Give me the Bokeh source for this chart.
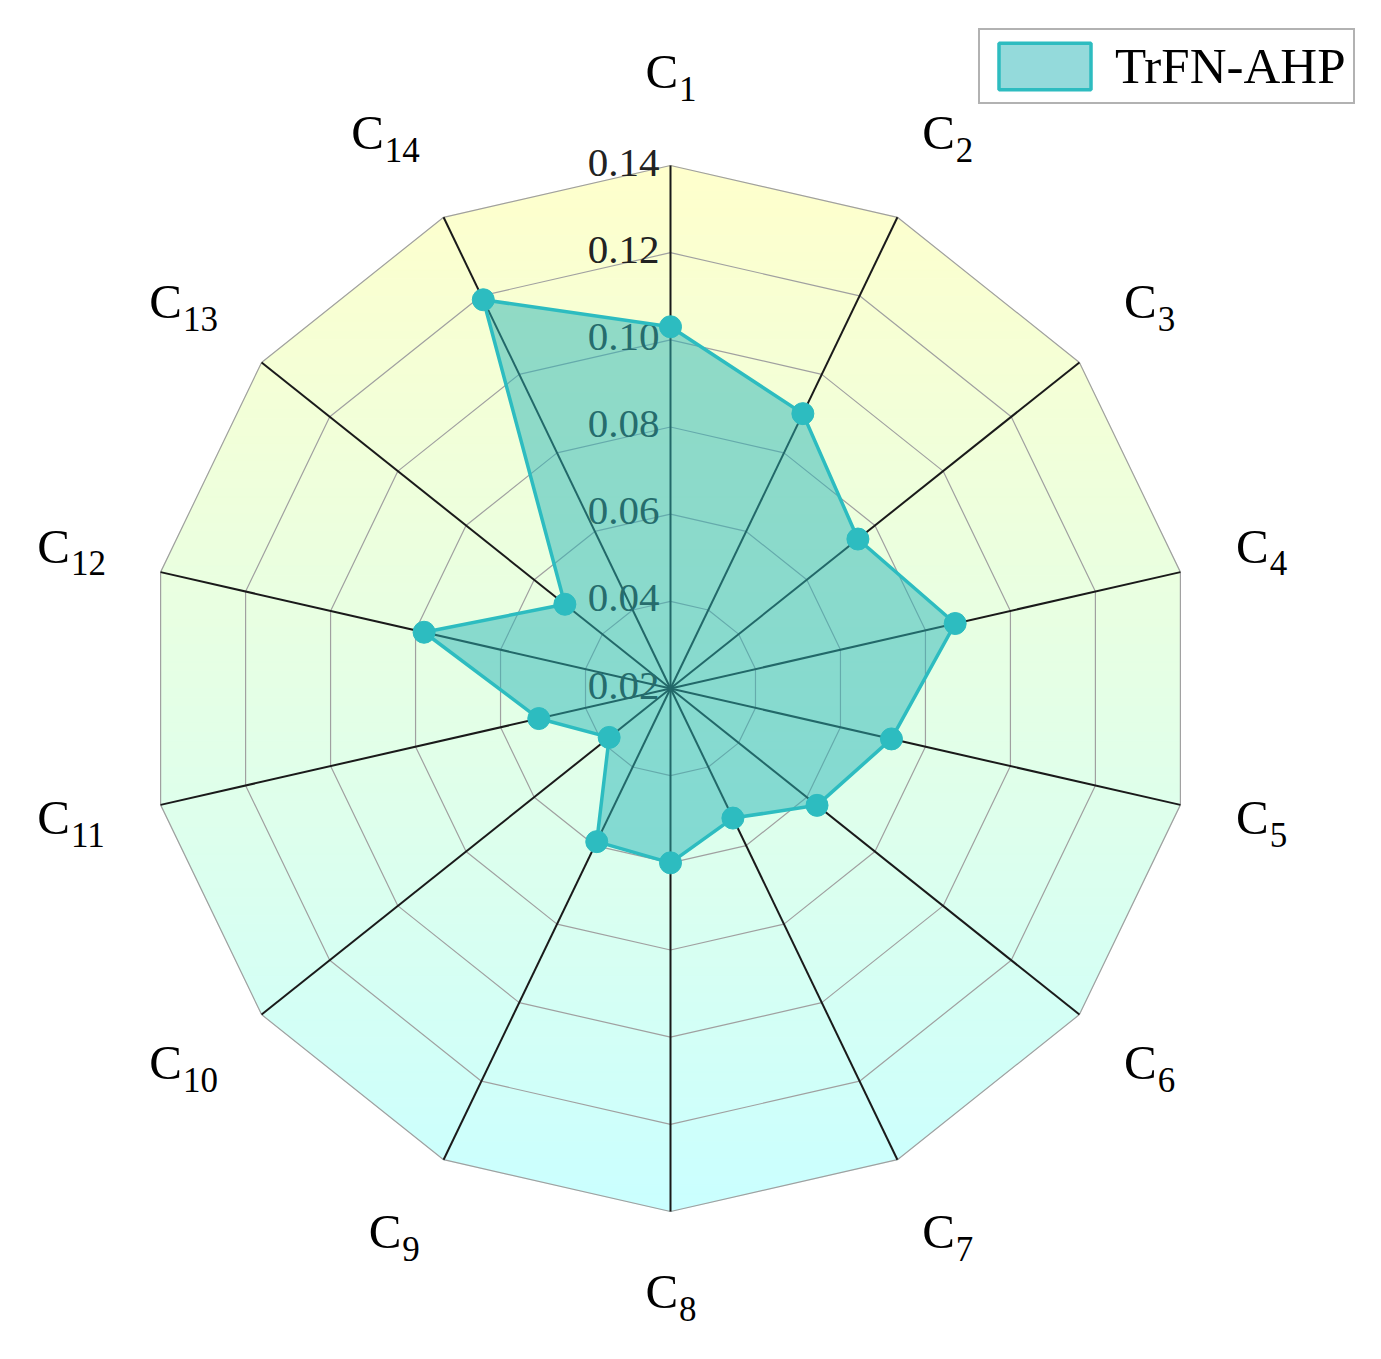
import numpy as np
from bokeh.plotting import figure
from bokeh.models import Range1d, Legend, LegendItem
from bokeh.core.properties import value
from bokeh.embed import file_html
from bokeh.resources import INLINE

# ---------------- data ----------------
criteria_sub = ["1", "2", "3", "4", "5", "6", "7", "8", "9", "10", "11", "12", "13", "14"]
weights = [0.103, 0.090, 0.075, 0.087, 0.072, 0.063, 0.053, 0.060, 0.059, 0.038, 0.051, 0.078, 0.051, 0.119]
ticks = [0.02, 0.04, 0.06, 0.08, 0.10, 0.12, 0.14]
tick_labels = ["0.02", "0.04", "0.06", "0.08", "0.10", "0.12", "0.14"]
series_name = "TrFN-AHP"

# ---------------- layout ----------------
W, H = 1365, 1343
CX, CY = 670, 688          # centre in plot pixels (from top-left)
R = 523                    # outer radius in px
VMIN, VMAX = ticks[0], ticks[-1]
LABEL_RX = 580             # inner edge of side labels
LABEL_RY = 610             # vertical centre of labels
FONT = "Liberation Serif"
TEAL = "#2DBCC0"
FILL = "#2AB6B8"
C_SIZE, S_SIZE = 49, 35
C_ADV, D_ADV = 0.667 * C_SIZE, 0.5 * S_SIZE


def rad(v):
    return (np.asarray(v, dtype=float) - VMIN) / (VMAX - VMIN) * R


n = len(criteria_sub)
theta = np.arange(n) * 2 * np.pi / n
sn, cs = np.sin(theta), np.cos(theta)

p = figure(width=W, height=H, x_range=Range1d(-CX, W - CX), y_range=Range1d(-(H - CY), CY),
           output_backend="svg", toolbar_location=None, x_axis_type=None, y_axis_type=None,
           min_border=0, min_border_left=0, min_border_right=0, min_border_top=0, min_border_bottom=0)
p.grid.visible = False
p.outline_line_color = None
p.background_fill_color = "white"
p.border_fill_color = "white"

# ---------------- gradient background (clipped horizontal strips) ----------------
outer = list(zip(R * sn, R * cs))


def clip_y(poly, yc, keep_above):
    out = []
    m = len(poly)
    for k in range(m):
        a = poly[k]
        b = poly[(k + 1) % m]
        ina = a[1] >= yc if keep_above else a[1] <= yc
        inb = b[1] >= yc if keep_above else b[1] <= yc
        if ina:
            out.append(a)
        if ina != inb:
            t = (yc - a[1]) / (b[1] - a[1])
            out.append((a[0] + t * (b[0] - a[0]), yc))
    return out


top_col = np.array([255, 255, 204])
bot_col = np.array([202, 255, 255])
nstrips = 120
edges = np.linspace(R, -R, nstrips + 1)
xs_s, ys_s, cols = [], [], []
for k in range(nstrips):
    y1, y0 = edges[k], edges[k + 1]
    poly = clip_y(outer, y0, True)
    poly = clip_y(poly, y1, False)
    if len(poly) < 3:
        continue
    t = (R - 0.5 * (y0 + y1)) / (2 * R)
    c = (1 - t) * top_col + t * bot_col
    col = "#%02x%02x%02x" % tuple(int(round(v)) for v in c)
    xs_s.append([q[0] for q in poly])
    ys_s.append([q[1] for q in poly])
    cols.append(col)
p.patches(xs_s, ys_s, fill_color=cols, line_color=cols, line_width=1)

# ---------------- rings ----------------
ring_xs, ring_ys = [], []
for tv in ticks[1:]:
    r = float(rad(tv))
    ring_xs.append(list(r * sn) + [r * sn[0]])
    ring_ys.append(list(r * cs) + [r * cs[0]])
p.multi_line(ring_xs, ring_ys, line_color="#a0a0a0", line_width=1.2)

# ---------------- spokes ----------------
p.segment(x0=np.zeros(n), y0=np.zeros(n), x1=R * sn, y1=R * cs, line_color="#1a1a1a", line_width=2)

# ---------------- tick labels ----------------
p.text(x=[-11] * len(ticks), y=list(rad(ticks) + 3), text=tick_labels,
       text_font=value(FONT), text_font_size="41px", text_color="#222222",
       text_align="right", text_baseline="middle")

# ---------------- data ----------------
rv = rad(weights)
dx, dy = rv * sn, rv * cs
patch_r = p.patch(x=list(dx), y=list(dy), fill_color=FILL, fill_alpha=0.5,
                  line_color=TEAL, line_width=3.5)
p.scatter(x=list(dx), y=list(dy), size=22, marker="circle", fill_color=TEAL, line_color=TEAL)

# ---------------- category labels C_i ----------------
c_x, c_y, s_x, s_y = [], [], [], []
for i, lab in enumerate(criteria_sub):
    w = C_ADV + D_ADV * len(lab)
    if sn[i] > 0.1:          # right side: inner (left) edge on the ring
        left = LABEL_RX * sn[i]
    elif sn[i] < -0.1:       # left side: inner (right) edge on the ring
        left = LABEL_RX * sn[i] - w
    else:                    # top / bottom: centred
        left = -w / 2
    yc = LABEL_RY * cs[i]
    c_x.append(left)
    c_y.append(yc + 6.7)
    s_x.append(left + C_ADV + 1)
    s_y.append(yc - 10.7)
p.text(x=c_x, y=c_y, text=["C"] * n, text_font=value(FONT), text_font_size=f"{C_SIZE}px",
       text_color="black", text_align="left", text_baseline="middle")
p.text(x=s_x, y=s_y, text=criteria_sub, text_font=value(FONT), text_font_size=f"{S_SIZE}px",
       text_color="black", text_align="left", text_baseline="middle")

# ---------------- legend ----------------
legend = Legend(items=[LegendItem(label=series_name, renderers=[patch_r])],
                location=(978, H - 104), margin=0, padding=7, spacing=0,
                glyph_width=115, glyph_height=58, label_standoff=13,
                label_text_font=FONT, label_text_font_size="51px", label_text_color="black",
                label_height=58, border_line_color="#666666", border_line_width=2,
                background_fill_color="white", background_fill_alpha=1.0)
p.add_layout(legend)

open("out.html", "w").write(file_html(p, INLINE))
